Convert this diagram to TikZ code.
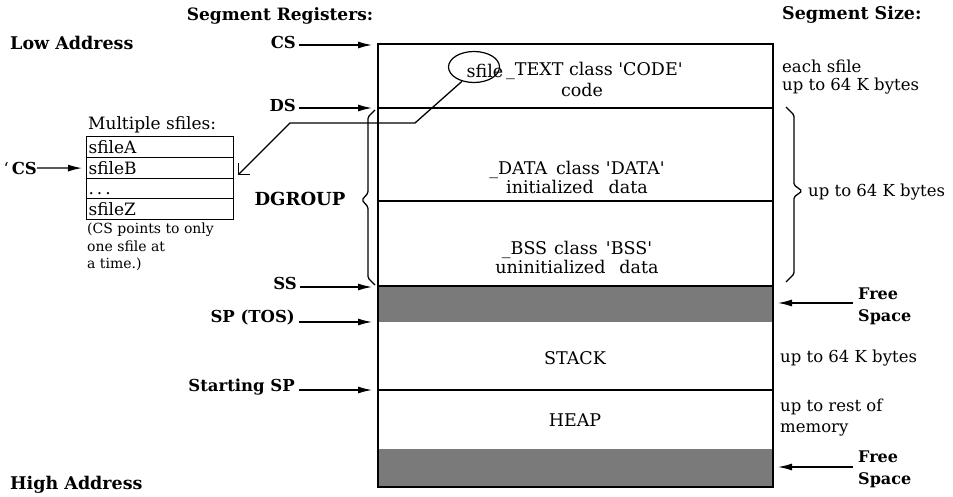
\documentclass[tikz,border=0pt]{standalone}
\usepackage{fontspec}
\setmainfont{DejaVu Serif}
\usetikzlibrary{arrows.meta,shapes.geometric}
\begin{document}
\begin{tikzpicture}[x=1pt,y=-1pt,
  bl/.style={font=\fontsize{17.5}{22}\selectfont\bfseries, inner sep=0pt},
  fsp/.style={font=\fontsize{16}{22}\selectfont\bfseries, inner sep=0pt, align=left, anchor=west},
  lab/.style={font=\fontsize{16.5}{20}\selectfont\bfseries, inner sep=0pt},
  rg/.style={font=\fontsize{17.5}{19}\selectfont, inner sep=0pt, align=center},
  rt/.style={font=\fontsize{16.5}{18}\selectfont, inner sep=0pt, align=left, anchor=west},
  arr/.style={line width=1.3pt, -{Latex[length=14pt,width=7pt]}},
  rule/.style={line width=1.3pt},
  region/.style={draw=none, inner sep=0pt, outer sep=0pt, minimum width=395pt, anchor=north west},
  shaded/.style={region, fill=black!52},
  cell/.style={draw, line width=1.2pt, inner xsep=2pt, inner ysep=0pt, text width=143pt, align=left,
     minimum height=21pt, anchor=north west, font=\fontsize{17}{20}\selectfont, text height=12pt, text depth=0pt},
  brc/.style={line width=1.3pt, rounded corners=1.5pt}
]
\fill[white] (0,0) rectangle (953,497);
\useasboundingbox (0,0) rectangle (953,497);

% memory regions
\node[region, minimum height=64pt] (text) at (378,44) {};
\node[region, minimum height=93pt] (data) at (378,108) {};
\node[region, minimum height=85pt] (bss) at (378,201) {};
\node[shaded, minimum height=36pt] (free1) at (378,286) {};
\node[region, minimum height=68pt] (stack) at (378,322) {};
\node[region, minimum height=59pt] (heap) at (378,390) {};
\node[shaded, minimum height=38pt] (free2) at (378,449) {};
\draw[rule] (text.north west) rectangle (free2.south east);
\draw[rule] (data.north west) -- (data.north east);
\draw[rule] (bss.north west) -- (bss.north east);
\draw[rule] (free1.north west) -- (free1.north east);
\draw[rule] (heap.north west) -- (heap.north east);

% texts inside memory
\node[draw, ellipse, line width=1.2pt, minimum width=51pt, minimum height=31pt, inner sep=0pt] (ell) at (474,67) {};
\node[rg] (sf) at (485,71) {sfile};
\node[rg, anchor=west] (ttext) at (506,71) {\_TEXT class \textquotesingle CODE\textquotesingle};
\node[rg] (tcode) at (582,90) {code};
\node[rg] (tdata) at (577,177.5) {\_DATA\hspace{9pt}class\hspace{6pt}\textquotesingle DATA\textquotesingle\\initialized\hspace{15pt}data};
\node[rg] (tbss) at (577,257.5) {\_BSS\hspace{7pt}class\hspace{8pt}\textquotesingle BSS\textquotesingle\\uninitialized\hspace{14pt}data};
\node[rg] (tstack) at (575,358) {STACK};
\node[rg] (theap) at (575,420) {HEAP};

% titles
\node[bl, font=\fontsize{17}{22}\selectfont\bfseries] (segreg) at (280,16) {Segment Registers:};
\node[bl, anchor=west] (low) at (10,43) {Low Address};
\node[bl, anchor=west] (segsize) at (782,15) {Segment Size:};
\node[bl, anchor=west] (high) at (10,485) {High Address};

% segment register labels and arrows
\node[lab, anchor=east] (cs) at (296,42) {CS};
\node[lab, anchor=east] (ds) at (296,105) {DS};
\node[lab, anchor=east] (ss) at (297,283) {SS};
\node[lab, anchor=east] (sp) at (295,318) {SP (TOS)};
\node[lab, anchor=east] (ssp) at (295,387) {Starting SP};
\node[lab, font=\fontsize{18}{20}\selectfont\bfseries] (dgroup) at (300,199) {DGROUP};
\coordinate (tcs) at (372,45);
\coordinate (tds) at (372,108);
\coordinate (tss) at (372,287);
\coordinate (tsp) at (372,322);
\coordinate (tssp) at (372,390);
\draw[arr, shorten <=3pt] (cs.east |- tcs) -- (tcs);
\draw[arr, shorten <=3pt] (ds.east |- tds) -- (tds);
\draw[arr, shorten <=3pt] (ss.east |- tss) -- (tss);
\draw[arr, shorten <=4pt] (sp.east |- tsp) -- (tsp);
\draw[arr, shorten <=4pt] (ssp.east |- tssp) -- (tssp);

% DGROUP brace
\draw[brc] (375,110) -- (368,117) -- (368,193) -- (362,200) -- (368,207) -- (368,278) -- (375,285);
% right brace
\draw[brc] (786,107) -- (794,115) -- (794,185) -- (802,191) -- (794,197) -- (794,274) -- (786,282);

% right side texts
\node[rt] (each) at (782,77) {each sfile\\up to 64 K bytes};
\node[rt] (dg64) at (808,192) {up to 64 K bytes};
\node[rt] (st64) at (780,358) {up to 64 K bytes};
\node[rt, font=\fontsize{16.5}{21}\selectfont] (rest) at (780,418) {up to rest of\\memory};

% free space
\node[fsp] (fs1) at (858,306) {Free\\Space};
\node[fsp] (fs2) at (858,469) {Free\\Space};
\coordinate (f1) at (778,303);
\coordinate (f2) at (778,467);
\draw[arr, shorten <=5pt] (fs1.west |- f1) -- (f1);
\draw[arr, shorten <=5pt] (fs2.west |- f2) -- (f2);

% multiple sfiles
\node[rt, font=\fontsize{17}{20}\selectfont] (multi) at (88,125) {Multiple sfiles:};
\node[cell] (ra) at (86,136) {sfileA};
\node[cell] (rb) at (86,157) {sfileB};
\node[cell, minimum height=20pt] (rdots) at (86,178) {.\hspace{3pt}.\hspace{3pt}.};
\node[cell] (rz) at (86,198) {sfileZ};
\node[rt, anchor=north west, font=\fontsize{14}{17.5}\selectfont] (capt) at (87,223) {(CS points to only\\one sfile at\\a time.)};
\node[lab, anchor=east] (lcs) at (37,168) {{\mdseries\textquoteleft}\hspace{3pt}CS};
\draw[arr, shorten >=4pt] (lcs.east) -- (rb.west);

% sfile connector
\coordinate (k1) at (415,123);
\coordinate (k2) at (290,123);
\coordinate (ktip) at (238,175);
\draw[line width=1.3pt, -{Straight Barb[length=8pt,width=16pt]}] (ell.-130) -- (k1) -- (k2) -- (ktip);
\end{tikzpicture}
\end{document}
